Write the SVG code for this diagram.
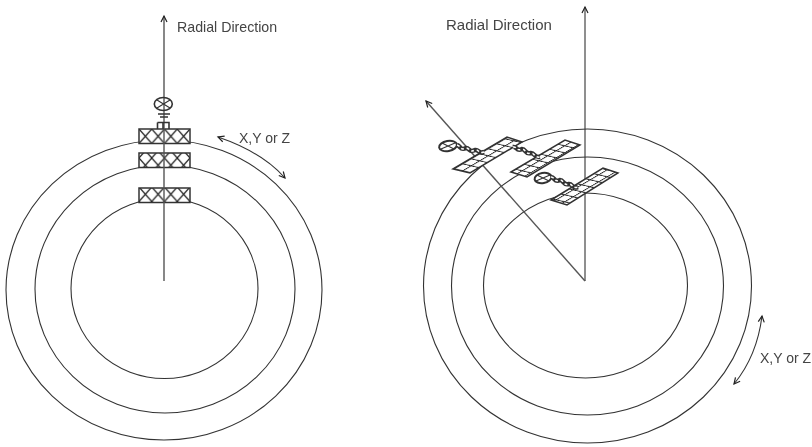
<svg xmlns="http://www.w3.org/2000/svg" width="812" height="447" viewBox="0 0 812 447">
<style>
.l{fill:none;stroke:#333;stroke-width:1.1}
.g{fill:none;stroke:#555;stroke-width:1.4}
.t{font-family:"Liberation Sans",Arial,sans-serif;fill:#444}
.p{stroke:#333;stroke-width:1.5}
.b{fill:none;stroke:#333;stroke-width:1.6}
.c{fill:none;stroke:#333;stroke-width:4.500}
.d{fill:none;stroke:#fff;stroke-width:1.500;stroke-dasharray:3 2.500}
</style>
<defs>
<filter id="soft" x="0" y="0" width="100%" height="100%"><feGaussianBlur stdDeviation="0.4"/></filter>
<pattern id="h1" patternUnits="userSpaceOnUse" width="12.75" height="14.5" x="139" y="129"><rect width="12.75" height="14.5" fill="#fff"/><path d="M0 0L12.75 14.5M12.75 0L0 14.5" stroke="#222" stroke-width="1.3"/></pattern>
<pattern id="h2" patternUnits="userSpaceOnUse" width="10" height="10" patternTransform="matrix(.85 -.5 .85 .2 453 169)"><rect width="10" height="10" fill="#fff"/><path d="M0 0H10M0 0V10" stroke="#222" stroke-width="2.600"/></pattern>
<marker id="a" markerWidth="9" markerHeight="9" refX="7" refY="4" orient="auto-start-reverse" markerUnits="userSpaceOnUse"><path d="M1 1L7 4L1 7" fill="none" stroke="#222" stroke-width="1.2"/></marker>
</defs>
<g filter="url(#soft)">
<rect width="812" height="447" fill="#fff"/>
<g id="left-rings">
<ellipse class="l" cx="164" cy="290" rx="158" ry="150"/>
<ellipse class="l" cx="165" cy="289" rx="130" ry="124"/>
<ellipse class="l" cx="164.500" cy="288.500" rx="93.500" ry="90"/>
</g>
<g id="right-rings">
<ellipse class="l" cx="587.500" cy="286" rx="164" ry="157"/>
<ellipse class="l" cx="587.500" cy="286" rx="136" ry="129"/>
<ellipse class="l" cx="585.500" cy="285.500" rx="102" ry="92.500"/>
</g>
<g id="left-satellites">
<rect class="p" x="139" y="129" width="51" height="14.500" fill="url(#h1)"/>
<rect class="p" x="139" y="153" width="51" height="14.500" fill="url(#h1)"/>
<rect class="p" x="139" y="188" width="51" height="14.500" fill="url(#h1)"/>
</g>
<g id="connectors">
<path class="g" d="M164 281V16" marker-end="url(#a)"/>
<path class="l" d="M585 281V7" marker-end="url(#a)"/>
<path class="g" d="M585 281L426 101" marker-end="url(#a)"/>
<path class="l" d="M218 137Q262 152 285 178" marker-start="url(#a)" marker-end="url(#a)"/>
<path class="l" d="M762 316Q757 356 734 384" marker-start="url(#a)" marker-end="url(#a)"/>
</g>
<g id="left-bus">
<ellipse class="b" cx="163.300" cy="104" rx="9" ry="6.500" fill="#fff"/>
<path class="l" d="M157 100L170 108M170 100L157 108"/>
<path class="b" d="M158 114H170M160 117H168M157.500 122.500H169V129M157.500 122.500V129M163 122.500V129"/>
</g>
<g id="right-satellites">
<polygon class="p" points="453,169 507,137 522,142 470,173" fill="url(#h2)"/>
<polygon class="p" points="511,172 565,140 580,145 527,177" fill="url(#h2)"/>
<polygon class="p" points="551,200 603,168 618,173 567,205" fill="url(#h2)"/>
<ellipse class="c" style="stroke-width:2" cx="448" cy="146" rx="9" ry="5" transform="rotate(-10 448 146)" fill="#fff"/>
<path class="l" d="M441 149L455 143M442 143L454 149"/>
<path class="c" d="M457 145C461 146 460 151 466 148C470 148 469 153 475 150C479 149 478 154 484 152"/>
<path class="d" d="M457 145C461 146 460 151 466 148C470 148 469 153 475 150C479 149 478 154 484 152"/>
<path class="c" d="M513 147C517 146 516 152 522 149C526 149 525 155 531 153C535 153 534 158 540 157"/>
<path class="d" d="M513 147C517 146 516 152 522 149C526 149 525 155 531 153C535 153 534 158 540 157"/>
<ellipse class="c" style="stroke-width:2" cx="543" cy="178" rx="8.500" ry="5" transform="rotate(-10 543 178)" fill="#fff"/>
<path class="l" d="M536 181L550 175M537 175L549 181"/>
<path class="c" d="M551 177C555 177 554 183 560 180C564 180 563 186 569 184C573 184 572 189 578 187"/>
<path class="d" d="M551 177C555 177 554 183 560 180C564 180 563 186 569 184C573 184 572 189 578 187"/>
</g>
<g id="labels">
<text class="t" x="177" y="32" font-size="14.200">Radial Direction</text>
<text class="t" x="446" y="30" font-size="15">Radial Direction</text>
<text class="t" x="239" y="143" font-size="14">X,Y or Z</text>
<text class="t" x="760" y="363" font-size="14">X,Y or Z</text>
</g>
</g>
</svg>
